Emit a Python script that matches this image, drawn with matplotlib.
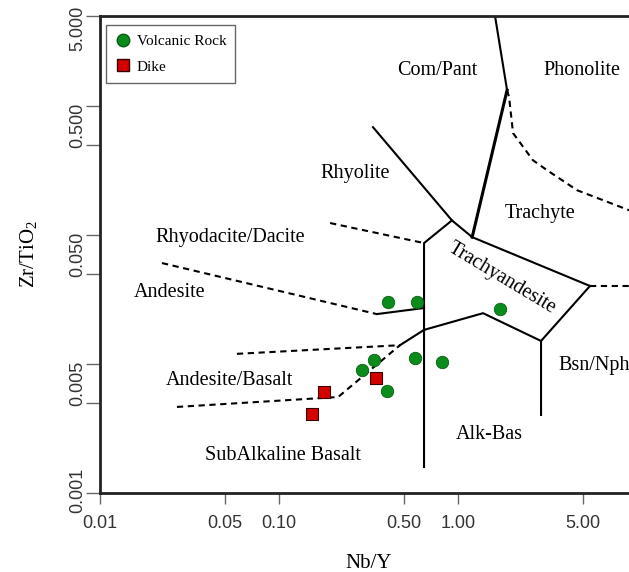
import matplotlib
matplotlib.use("Agg")
import matplotlib.pyplot as plt
from matplotlib.lines import Line2D
from matplotlib.ticker import FixedLocator, NullFormatter, FixedFormatter

# samples
volc_nby = [0.406, 0.590, 0.340, 0.291, 0.401, 0.575, 0.815, 1.72]
volc_zrti = [0.0303, 0.0303, 0.0107, 0.00897, 0.00618, 0.0111, 0.0104, 0.0267]
dike_nby = [0.348, 0.178, 0.153]
dike_zrti = [0.00778, 0.00607, 0.00409]

# field boundaries (solid)
solid_lines = {
    "com_phon": ([1.61, 1.88], [5.0, 1.33]),
    "rhy": ([0.335, 0.925, 1.20], [0.687, 0.130, 0.0964]),
    "ta_top": ([1.20, 5.46], [0.0964, 0.0403]),
    "ta_right": ([5.46, 2.91, 2.91], [0.0403, 0.0151, 0.00403]),
    "ta_left": ([0.925, 0.646, 0.646], [0.130, 0.0867, 0.00159]),
    "alk_top": ([0.646, 1.38, 2.91], [0.0184, 0.0248, 0.0151]),
    "and_seg": ([0.352, 0.646], [0.0244, 0.0272]),
    "ab_seg": ([0.474, 0.646], [0.0140, 0.0184]),
}
thick_x = [1.88, 1.20]
thick_y = [1.33, 0.0964]

# field boundaries (dashed)
dashed_lines = {
    "rd": ([0.193, 0.646], [0.124, 0.0867]),
    "and": ([0.0222, 0.352], [0.0607, 0.0244]),
    "ab": ([0.0582, 0.474], [0.0120, 0.0140]),
    "sab": ([0.0269, 0.214, 0.474], [0.00465, 0.00555, 0.0140]),
    "phon": ([1.88, 1.93, 2.03, 2.62, 3.14, 4.62, 9.02, 10.0],
             [1.33, 1.17, 0.618, 0.381, 0.319, 0.223, 0.156, 0.150]),
    "trach": ([5.46, 10.0], [0.0403, 0.0403]),
}

field_names = ["Com/Pant", "Phonolite", "Rhyolite", "Trachyte", "Rhyodacite/Dacite",
               "Andesite", "Andesite/Basalt", "SubAlkaline Basalt", "Alk-Bas"]
field_x = [0.764, 4.93, 0.266, 2.87, 0.0532, 0.0246, 0.0532, 0.105, 1.49]
field_y = [1.90, 1.90, 0.303, 0.148, 0.0964, 0.0361, 0.00752, 0.00197, 0.00286]

x_ticks = [0.01, 0.05, 0.1, 0.5, 1, 5]
x_labels = ["0.01", "0.05", "0.10", "0.50", "1.00", "5.00"]
y_ticks = [0.001, 0.005, 0.01, 0.05, 0.1, 0.5, 1, 5]
y_label_pos = [0.00104, 0.00707, 0.0707, 0.707, 4.0]
y_labels = ["0.001", "0.005", "0.050", "0.500", "5.000"]

serif = "Liberation Serif"
sans = "Liberation Sans"
plt.rcParams["mathtext.fontset"] = "custom"
plt.rcParams["mathtext.rm"] = serif
plt.rcParams["mathtext.it"] = serif + ":italic"

fig = plt.figure(figsize=(6.29, 5.72), dpi=100)
ax = fig.add_axes([100 / 629, 1 - 493 / 572, 537 / 629, 477 / 572])
ax.set_xscale("log")
ax.set_yscale("log")
ax.set_xlim(0.01, 10)
ax.set_ylim(0.001, 5)

for xs, ys in solid_lines.values():
    ax.plot(xs, ys, color="black", lw=1.5)
ax.plot(thick_x, thick_y, color="black", lw=2.2)
for xs, ys in dashed_lines.values():
    ax.plot(xs, ys, color="black", lw=1.5, linestyle=(0, (3, 2.2)))

for name, x, y in zip(field_names, field_x, field_y):
    ax.text(x, y, name, family=serif, fontsize=14.5, ha="center", va="center")
ax.text(3.62, 0.00982, "Bsn/Nph", family=serif, fontsize=14.5, ha="left", va="center")
ax.text(1.76, 0.0465, "Trachyandesite", family=serif, fontsize=14.5,
        ha="center", va="center", rotation=-31, rotation_mode="anchor")

ax.scatter(volc_nby, volc_zrti, s=80, marker="o", color="#0a8c1c",
           edgecolor="#0a5c12", linewidth=0.6, zorder=5)
ax.scatter(dike_nby, dike_zrti, s=80, marker="s", color="#d40000",
           edgecolor="#3a0000", linewidth=0.8, zorder=5)

ax.xaxis.set_major_locator(FixedLocator(x_ticks))
ax.xaxis.set_major_formatter(FixedFormatter(x_labels))
ax.xaxis.set_minor_locator(FixedLocator([]))
ax.yaxis.set_major_locator(FixedLocator(y_ticks))
ax.yaxis.set_major_formatter(NullFormatter())
ax.yaxis.set_minor_locator(FixedLocator(y_label_pos))
ax.yaxis.set_minor_formatter(FixedFormatter(y_labels))
ax.tick_params(axis="x", which="major", length=8, width=1, color="#666666",
               labelsize=13, pad=8)
ax.tick_params(axis="y", which="major", length=10, width=1, color="#666666")
ax.tick_params(axis="y", which="minor", length=0, labelsize=13, pad=10)
for lab in ax.get_xticklabels() + ax.get_yticklabels(minor=True):
    lab.set_family(sans)
    lab.set_color("#333333")
for lab in ax.get_yticklabels(minor=True):
    lab.set_rotation(90)
    lab.set_va("center")

for side in ["left", "bottom", "top", "right"]:
    ax.spines[side].set_linewidth(2)
    ax.spines[side].set_color("#222222")

ax.set_xlabel("Nb/Y", family=serif, fontsize=15, labelpad=16)
ax.set_ylabel("Zr/TiO$_2$", family=serif, fontsize=15, labelpad=22)

handles = [
    Line2D([], [], marker="o", linestyle="", markersize=9, color="#0a8c1c",
           markeredgecolor="#0a5c12", label="Volcanic Rock"),
    Line2D([], [], marker="s", linestyle="", markersize=9, color="#d40000",
           markeredgecolor="#3a0000", label="Dike"),
]
leg = ax.legend(handles=handles, loc="upper left", bbox_to_anchor=(6 / 537, 1 - 9 / 477),
                borderaxespad=0, fancybox=False, edgecolor="#666666", framealpha=1,
                prop={"family": serif, "size": 11}, handletextpad=0.4,
                handlelength=1.0, labelspacing=0.8, borderpad=0.6)
leg.get_frame().set_linewidth(1)

fig.savefig("out.png", dpi=100)
